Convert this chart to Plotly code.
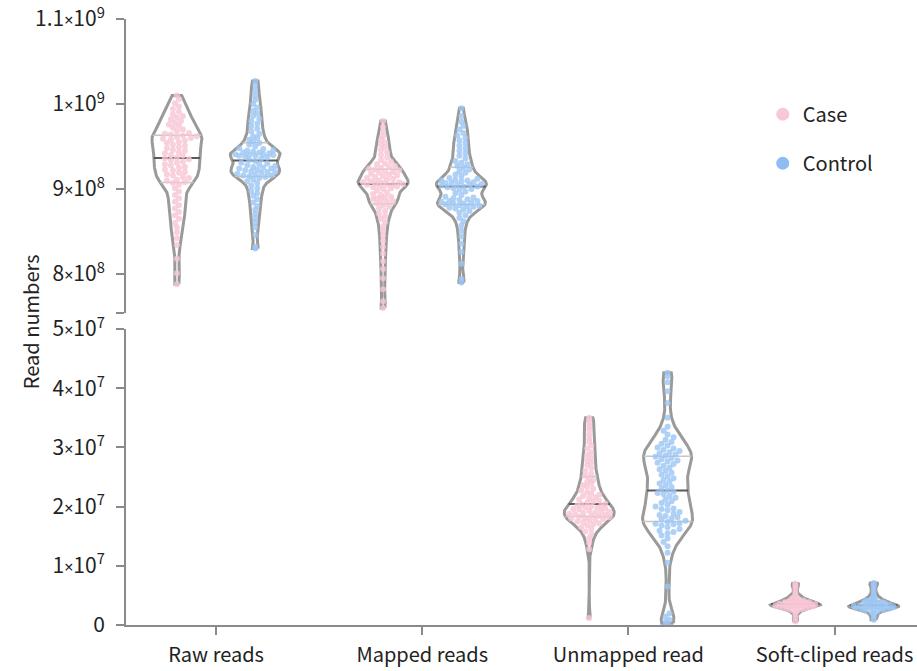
import numpy as np
import plotly.graph_objects as go

# ---------------------------------------------------------------------------
# Data (read counts, in millions of reads)
# ---------------------------------------------------------------------------
categories = ["Raw reads", "Mapped reads", "Unmapped read", "Soft-cliped reads"]
group_names = ["Case", "Control"]

raw_case = [788, 801, 818, 834, 842, 849, 855, 860, 865, 869, 873, 877, 881, 885, 889, 893,
            897, 901, 905, 907, 908, 910, 911, 913, 914, 916, 917, 919, 920, 922, 923, 925,
            926, 928, 929, 931, 932, 934, 935, 936, 937, 939, 940, 942, 943, 945, 946, 948,
            949, 951, 952, 954, 955, 957, 958, 959, 960, 961, 962, 963, 964, 965, 966, 968,
            970, 972, 974, 976, 978, 980, 982, 984, 986, 988, 991, 994, 997, 1001, 1006, 1010]
raw_control = [830, 832, 846, 855, 861, 866, 871, 876, 880, 884, 888, 892, 895, 898, 901, 904,
               907, 909, 911, 913, 914, 915, 916, 916, 917, 918, 919, 920, 920, 921, 922, 923,
               924, 924, 925, 926, 927, 928, 929, 930, 931, 933, 934, 936, 937, 938, 939, 939,
               940, 940, 941, 941, 942, 943, 943, 944, 945, 946, 947, 948, 950, 952, 954, 956,
               958, 960, 962, 965, 968, 971, 974, 977, 980, 983, 986, 989, 992, 996, 1000, 1005,
               1010, 1016, 1022, 1027]
mapped_case = [760, 768, 782, 795, 806, 815, 824, 832, 839, 845, 851, 856, 861, 865, 868, 871,
               874, 877, 879, 881, 883, 885, 886, 887, 888, 889, 890, 891, 893, 894, 896, 898,
               900, 901, 902, 903, 904, 905, 905, 906, 906, 907, 907, 908, 908, 909, 910, 911,
               912, 913, 914, 915, 916, 917, 918, 919, 920, 921, 922, 923, 924, 925, 926, 927,
               929, 930, 932, 934, 937, 940, 943, 946, 949, 952, 955, 958, 962, 967, 973, 980]
mapped_control = [790, 794, 812, 826, 836, 844, 851, 857, 862, 866, 869, 872, 874, 876, 877, 878,
                  879, 880, 880, 881, 882, 883, 883, 884, 885, 886, 886, 887, 888, 889, 890, 891,
                  893, 895, 897, 899, 900, 901, 902, 903, 903, 904, 905, 905, 906, 907, 907, 908,
                  909, 910, 910, 911, 912, 913, 915, 917, 919, 921, 923, 925, 927, 929, 931, 933,
                  936, 939, 942, 945, 948, 951, 954, 957, 960, 963, 966, 970, 974, 979, 986, 995]
unmapped_case = [1.2, 12.8, 13.9, 14.7, 15.3, 15.8, 16.2, 16.5, 16.8, 17.0, 17.2, 17.4, 17.5,
                 17.7, 17.8, 17.9, 18.0, 18.1, 18.2, 18.3, 18.4, 18.5, 18.6, 18.7, 18.8, 18.9,
                 19.0, 19.1, 19.2, 19.3, 19.5, 19.6, 19.7, 19.8, 19.9, 20.0, 20.1, 20.2, 20.4,
                 20.5, 20.7, 20.8, 21.0, 21.2, 21.4, 21.6, 21.8, 22.0, 22.2, 22.4, 22.7, 23.0,
                 23.3, 23.6, 23.9, 24.2, 24.5, 24.8, 25.2, 25.6, 26.0, 26.5, 27.0, 27.4, 27.8,
                 28.2, 28.7, 29.2, 29.8, 30.3, 30.9, 31.5, 32.2, 33.0, 33.6, 34.2, 34.7, 35.0]
unmapped_control = [0.3, 0.5, 0.9, 1.4, 2.0, 6.5, 10.5, 12.2, 13.3, 14.0, 14.6, 15.1, 15.5,
                    15.7, 15.9, 16.2, 16.5, 16.8, 17.0, 17.1, 17.2, 17.4, 17.6, 17.8, 18.0,
                    18.2, 18.4, 18.6, 18.8, 19.1, 19.4, 19.6, 19.7, 20.0, 20.3, 20.6, 20.9,
                    21.2, 21.5, 21.8, 22.1, 22.3, 22.5, 22.7, 23.0, 23.3, 23.6, 23.9, 24.2,
                    24.5, 24.8, 25.1, 25.4, 25.7, 26.0, 26.3, 26.6, 26.9, 27.2, 27.4, 27.6,
                    27.8, 28.0, 28.2, 28.4, 28.6, 28.8, 29.0, 29.2, 29.4, 29.6, 29.8, 30.0,
                    30.3, 30.6, 30.9, 31.3, 31.7, 32.2, 32.8, 33.5, 35.0, 37.5, 39.5, 41.0,
                    42.0, 42.6]
softclip_case = [0.6, 1.2, 1.8, 2.2, 2.4, 2.55, 2.65, 2.75, 2.85, 2.92, 3.0, 3.05, 3.1, 3.15,
                 3.2, 3.24, 3.28, 3.32, 3.36, 3.4, 3.44, 3.48, 3.52, 3.56, 3.6, 3.65, 3.7,
                 3.75, 3.8, 3.86, 3.92, 3.98, 4.05, 4.12, 4.2, 4.3, 4.4, 4.52, 4.65, 4.8, 5.0,
                 5.3, 5.8, 6.3, 6.7, 7.0]
softclip_control = [0.9, 1.4, 1.8, 2.1, 2.3, 2.45, 2.55, 2.65, 2.72, 2.8, 2.86, 2.92, 2.97,
                    3.02, 3.07, 3.12, 3.17, 3.22, 3.27, 3.32, 3.38, 3.44, 3.5, 3.57, 3.64,
                    3.72, 3.8, 3.9, 4.0, 4.12, 4.25, 4.4, 4.6, 4.85, 5.2, 5.7, 6.3, 6.8, 7.1]

series = [
    (raw_case, raw_control),
    (mapped_case, mapped_control),
    (unmapped_case, unmapped_control),
    (softclip_case, softclip_control),
]
on_top_axis = [True, True, False, False]

top_ticks = [8e8, 9e8, 1e9, 1.1e9]
top_mantissa = ["8", "9", "1", "1.1"]
top_exponent = ["8", "8", "9", "9"]
bottom_ticks = [0, 1e7, 2e7, 3e7, 4e7, 5e7]
bottom_mantissa = ["0", "1", "2", "3", "4", "5"]
bottom_exponent = ["", "7", "7", "7", "7", "7"]

# ---------------------------------------------------------------------------
# Geometry / style
# ---------------------------------------------------------------------------
W, H = 917, 671
ML, MR, MT, MB = 126, 0, 19, 46
PW, PH = W - ML - MR, H - MT - MB

# pixel rows (from the top of the page) where each axis segment ends
TOP_SEG_BOTTOM_PX = 313
BOT_SEG_TOP_PX = 329
BASE_PX = H - MB

TOP_DOMAIN = [(BASE_PX - TOP_SEG_BOTTOM_PX) / PH, 1.0]
BOT_DOMAIN = [0.0, (BASE_PX - BOT_SEG_TOP_PX) / PH]
TOP_MAX = 1.1e9
TOP_PX_PER_UNIT = 85 / 1e8
TOP_RANGE = [TOP_MAX - (TOP_SEG_BOTTOM_PX - MT) / TOP_PX_PER_UNIT, TOP_MAX]
BOT_RANGE = [0.0, 5e7]
X_RANGE = [-0.437, 3.40]

px_per_x = PW / (X_RANGE[1] - X_RANGE[0])
px_per_y_top = PH * (TOP_DOMAIN[1] - TOP_DOMAIN[0]) / (TOP_RANGE[1] - TOP_RANGE[0])
px_per_y_bot = PH * (BOT_DOMAIN[1] - BOT_DOMAIN[0]) / (BOT_RANGE[1] - BOT_RANGE[0])

OFFSET = 0.19            # horizontal offset of each group from the category tick
HALF_W_PX = 25           # half width of each violin at its widest, in pixels
DOT = 6                  # dot diameter in pixels

COLORS = {"Case": "#f7c5d5", "Control": "#9cc5f4"}
LEGEND_COLORS = {"Case": "#f8c8d6", "Control": "#8fbcf4"}
OUTLINE = "#9a9a9a"
AXIS = "#8a8a8a"
FONT = "Noto Sans CJK KR, Noto Sans, sans-serif"


def sci_label(mantissa, exponent):
    if not exponent:
        return mantissa
    times = '<span style="font-family:Noto Sans;font-size:16px">×</span>'
    return f"{mantissa}{times}10<sup>{exponent}</sup>"


def kde(values, bw_scale=0.55):
    v = np.asarray(values, float)
    n = len(v)
    sd = v.std(ddof=1)
    q75, q25 = np.percentile(v, [75, 25])
    spread = min(sd, (q75 - q25) / 1.34) if q75 > q25 else sd
    bw = 0.9 * spread * n ** -0.2 * bw_scale
    grid = np.linspace(v.min(), v.max(), 300)
    dens = np.exp(-0.5 * ((grid[:, None] - v[None, :]) / bw) ** 2).sum(axis=1)
    return grid, dens / dens.max()


def beeswarm(ypx, d, limit_px):
    """Horizontal pixel offsets for dots of diameter d, kept inside +/- limit_px."""
    order = np.argsort(ypx)
    placed_x, placed_y = [], []
    xs = np.zeros(len(ypx))
    step = d / 3.0
    for k, i in enumerate(order):
        y = ypx[i]
        lim = max(limit_px[i], 0.0)
        sign = 1 if k % 2 == 0 else -1
        cands = [0.0]
        m = 1
        while m * step <= lim:
            cands += [sign * m * step, -sign * m * step]
            m += 1
        px_arr = np.array(placed_x)
        py_arr = np.array(placed_y)
        best, best_score = 0.0, -1.0
        for c in cands:
            if len(px_arr) == 0:
                best = c
                break
            near = np.abs(py_arr - y) < d
            if not near.any():
                best = c
                break
            dmin = np.hypot(px_arr[near] - c, py_arr[near] - y).min()
            if dmin >= d * 0.85:
                best = c
                break
            if dmin > best_score:
                best, best_score = c, dmin
        xs[i] = best
        placed_x.append(best)
        placed_y.append(y)
    return xs


fig = go.Figure()

for ci, (pair, top) in enumerate(zip(series, on_top_axis)):
    yref = "y" if top else "y2"
    ppy = px_per_y_top if top else px_per_y_bot
    for gi, (name, vals_m) in enumerate(zip(group_names, pair)):
        vals = np.asarray(vals_m, float) * 1e6
        center = ci + (-OFFSET if gi == 0 else OFFSET)
        hw = HALF_W_PX / px_per_x

        grid, dens = kde(vals)

        # violin outline
        ox = np.concatenate([center + dens * hw, center - dens[::-1] * hw, [center + dens[0] * hw]])
        oy = np.concatenate([grid, grid[::-1], [grid[0]]])
        fig.add_trace(go.Scatter(
            x=ox, y=oy, yaxis=yref, mode="lines",
            line=dict(color=OUTLINE, width=3), hoverinfo="skip", showlegend=False,
            cliponaxis=False))

        # quartile lines
        q1, med, q3 = np.percentile(vals, [25, 50, 75])
        for q, col, lw in [(q1, "#c6c6c6", 1.5), (q3, "#c6c6c6", 1.5), (med, "#5a5a5a", 2)]:
            w = np.interp(q, grid, dens) * hw
            fig.add_trace(go.Scatter(
                x=[center - w, center + w], y=[q, q], yaxis=yref, mode="lines",
                line=dict(color=col, width=lw), hoverinfo="skip", showlegend=False))

        # individual samples, spread sideways inside the violin
        limit = np.interp(vals, grid, dens) * HALF_W_PX - DOT / 2
        offs = beeswarm(vals * ppy, DOT, limit) / px_per_x
        fig.add_trace(go.Scatter(
            x=center + offs, y=vals, yaxis=yref, mode="markers",
            marker=dict(size=DOT, color=COLORS[name], opacity=0.8, line=dict(width=0)),
            cliponaxis=False, name=name, showlegend=False))

# legend entries
for name in group_names:
    fig.add_trace(go.Scatter(
        x=[None], y=[None], mode="markers", name=name, legendgroup=name,
        marker=dict(size=13, color=LEGEND_COLORS[name])))

axis_common = dict(
    showline=True, linecolor=AXIS, linewidth=2, ticks="outside", ticklen=8,
    tickwidth=2, tickcolor=AXIS, showgrid=False, zeroline=False, automargin=False,
)
y_tickfont = dict(size=21, color="#222222", family=FONT)
x_tickfont = dict(size=20, color="#222222", family=FONT)

fig.update_layout(
    width=W, height=H,
    margin=dict(l=ML, r=MR, t=MT, b=MB, autoexpand=False),
    paper_bgcolor="white", plot_bgcolor="white",
    font=dict(family=FONT, color="#222222"),
    xaxis=dict(
        range=X_RANGE, anchor="y2", tickmode="array",
        tickvals=list(range(len(categories))), ticktext=categories,
        ticklabelstandoff=3, tickfont=x_tickfont, **axis_common,
    ),
    yaxis=dict(
        domain=TOP_DOMAIN, range=TOP_RANGE, anchor="x", tickmode="array",
        tickvals=[TOP_RANGE[0]] + top_ticks,
        ticktext=[""] + [sci_label(m, e) for m, e in zip(top_mantissa, top_exponent)],
        ticklabelstandoff=7, ticklabeloverflow="allow", tickfont=y_tickfont, **axis_common,
    ),
    yaxis2=dict(
        domain=BOT_DOMAIN, range=BOT_RANGE, anchor="x", tickmode="array",
        tickvals=bottom_ticks,
        ticktext=[sci_label(m, e) for m, e in zip(bottom_mantissa, bottom_exponent)],
        ticklabelstandoff=7, ticklabeloverflow="allow", tickfont=y_tickfont, **axis_common,
    ),
    legend=dict(
        x=0.805, y=0.875, xanchor="left", yanchor="top",
        font=dict(size=20, color="#222222", family=FONT),
        tracegroupgap=20, itemsizing="trace", bgcolor="rgba(0,0,0,0)",
    ),
    annotations=[dict(
        text="Read numbers", xref="paper", yref="paper", x=-0.142, y=0.50,
        textangle=-90, showarrow=False, font=dict(size=20, color="#222222", family=FONT),
    )],
)

fig.write_html("out.html")
